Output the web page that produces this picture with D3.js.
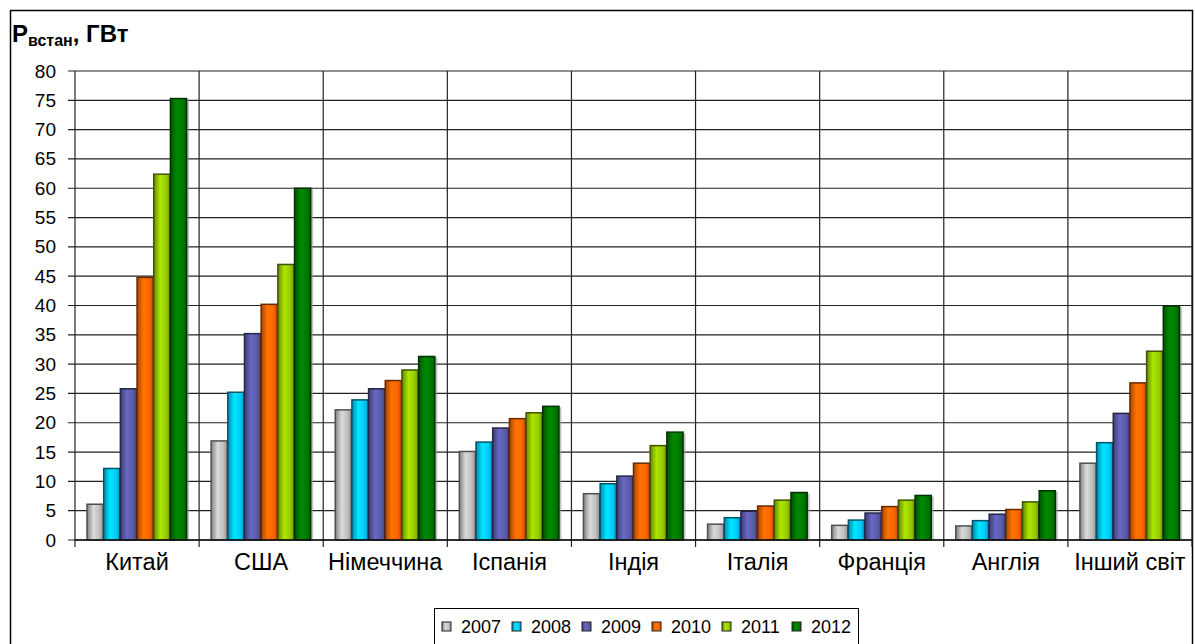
<!DOCTYPE html>
<html>
<head>
<meta charset="utf-8">
<script src="https://cdn.jsdelivr.net/npm/d3@7"></script>
<style>
  body { margin: 0; background: #fff; }
  text { font-family: "Liberation Sans", Arial, sans-serif; }
</style>
</head>
<body>
<svg id="chart" width="1195" height="644"></svg>
<script>
var countries = ["Китай", "США", "Німеччина", "Іспанія", "Індія", "Італія", "Франція", "Англія", "Інший світ"];
var years = ["2007", "2008", "2009", "2010", "2011", "2012"];
var colors = ["#c0c0c0", "#00ccff", "#5c5cac", "#ff6600", "#99cc00", "#007a00"];
var v2007 = [6.1, 16.9, 22.2, 15.1, 7.9, 2.7, 2.5, 2.4, 13.1];
var v2008 = [12.2, 25.2, 23.9, 16.7, 9.6, 3.8, 3.4, 3.3, 16.6];
var v2009 = [25.8, 35.2, 25.8, 19.1, 10.9, 4.9, 4.6, 4.4, 21.6];
var v2010 = [44.8, 40.2, 27.2, 20.7, 13.1, 5.8, 5.7, 5.2, 26.8];
var v2011 = [62.4, 47.0, 29.0, 21.7, 16.1, 6.8, 6.8, 6.5, 32.2];
var v2012 = [75.3, 60.0, 31.3, 22.8, 18.4, 8.1, 7.6, 8.4, 39.9];
var yTicks = d3.range(0, 81, 5);

var series = [v2007, v2008, v2009, v2010, v2011, v2012];

var svg = d3.select("#chart");
var plotL = 75, plotR = 1192, plotT = 71, plotB = 540;

// outer frame
svg.append("rect").attr("x", 10.5).attr("y", 10.5).attr("width", 1182).attr("height", 640)
  .attr("fill", "none").attr("stroke", "#000").attr("stroke-width", 1.5);

var x0 = d3.scaleBand().domain(countries).range([plotL, plotR]).paddingInner(0).paddingOuter(0);
var x1 = d3.scaleBand().domain(years).range([0, x0.bandwidth()]).paddingOuter(0.72).paddingInner(0);
var y = d3.scaleLinear().domain([0, 80]).range([plotB, plotT]);

// gradients
var defs = svg.append("defs");
colors.forEach(function(c, i) {
  var g = defs.append("linearGradient").attr("id", "g" + i).attr("x1", "0%").attr("x2", "100%");
  var base = d3.color(c);
  g.append("stop").attr("offset", "0%").attr("stop-color", base.darker(1.1));
  g.append("stop").attr("offset", "40%").attr("stop-color", base.brighter(0.35));
  g.append("stop").attr("offset", "75%").attr("stop-color", base);
  g.append("stop").attr("offset", "100%").attr("stop-color", base.darker(0.7));
});

// horizontal grid
svg.append("g").selectAll("line").data(yTicks).enter().append("line")
  .attr("x1", plotL - 7).attr("x2", plotR).attr("y1", function(d) { return y(d); }).attr("y2", function(d) { return y(d); })
  .attr("stroke", "#222").attr("stroke-width", 1.2);

// vertical grid at category boundaries
var bounds = countries.map(function(c) { return x0(c); }).concat([plotR]);
svg.append("g").selectAll("line").data(bounds).enter().append("line")
  .attr("x1", function(d) { return d; }).attr("x2", function(d) { return d; })
  .attr("y1", plotT).attr("y2", plotB + 7)
  .attr("stroke", "#222").attr("stroke-width", 1.2);

// y tick labels
svg.append("g").selectAll("text").data(yTicks).enter().append("text")
  .attr("x", 56).attr("y", function(d) { return y(d) + 6.5; })
  .attr("text-anchor", "end").attr("font-size", 19).text(function(d) { return d; });

// bars
var groups = svg.append("g").selectAll("g").data(countries).enter().append("g")
  .attr("transform", function(c) { return "translate(" + x0(c) + ",0)"; });

groups.each(function(c, ci) {
  var g = d3.select(this);
  years.forEach(function(yr, si) {
    var v = series[si][ci];
    g.append("rect")
      .attr("x", x1(yr) + 2).attr("y", y(v) + 1)
      .attr("width", x1.bandwidth()).attr("height", plotB - y(v) - 1)
      .attr("fill", "#999").attr("opacity", 0.6);
  });
  years.forEach(function(yr, si) {
    var v = series[si][ci];
    g.append("rect")
      .attr("x", x1(yr)).attr("y", y(v))
      .attr("width", x1.bandwidth() - 0.5).attr("height", plotB - y(v))
      .attr("fill", "url(#g" + si + ")")
      .attr("stroke", d3.color(colors[si]).darker(2.5)).attr("stroke-width", 1.5);
  });
});

// x axis line
svg.append("line").attr("x1", plotL).attr("x2", plotR).attr("y1", plotB).attr("y2", plotB)
  .attr("stroke", "#111").attr("stroke-width", 1.5);

// category labels
svg.append("g").selectAll("text").data(countries).enter().append("text")
  .attr("x", function(c) { return x0(c) + x0.bandwidth() / 2; }).attr("y", 570)
  .attr("text-anchor", "middle").attr("font-size", 23.5).text(function(c) { return c; });

// title
var t = svg.append("text").attr("x", 12).attr("y", 42).attr("font-weight", "bold").attr("font-size", 24);
t.append("tspan").text("P");
t.append("tspan").attr("font-size", 16).attr("dy", 4).text("встан");
t.append("tspan").attr("dy", -4).text(", ГВт");

// legend
var lg = svg.append("g");
lg.append("rect").attr("x", 434.5).attr("y", 608.5).attr("width", 424).attr("height", 40)
  .attr("fill", "#fff").attr("stroke", "#000").attr("stroke-width", 1);
var itemW = 70;
years.forEach(function(yr, i) {
  var lx = 442 + i * itemW;
  lg.append("rect").attr("x", lx).attr("y", 622).attr("width", 9).attr("height", 9)
    .attr("fill", "url(#g" + i + ")").attr("stroke", "#222").attr("stroke-width", 1);
  lg.append("text").attr("x", lx + 19).attr("y", 633).attr("font-size", 18).text(yr);
});
</script>
</body>
</html>
